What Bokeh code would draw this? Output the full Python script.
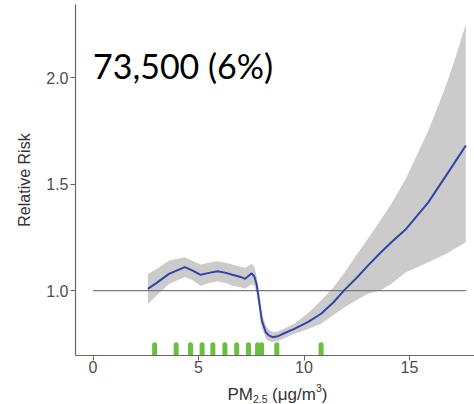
from bokeh.plotting import figure
from bokeh.layouts import column
from bokeh.models import Label, Range1d, FixedTicker, NumeralTickFormatter
from bokeh.embed import file_html
from bokeh.resources import INLINE

# ---- data ----
rr_x = [2.6, 3.0, 3.6, 4.35, 4.7, 5.1, 5.5, 5.9, 6.3, 6.6, 7.0, 7.21, 7.52, 7.65,
        7.75, 7.87, 8.0, 8.19, 8.35, 8.51, 8.75, 9.0, 9.54, 10.2, 10.81, 11.4,
        11.92, 12.5, 13.03, 13.6, 14.14, 14.8, 15.89, 16.7, 17.2, 17.67]
rr_fit = [1.008, 1.035, 1.078, 1.110, 1.095, 1.074, 1.083, 1.091, 1.083, 1.074,
          1.064, 1.055, 1.081, 1.065, 1.031, 0.953, 0.859, 0.804, 0.788, 0.781,
          0.785, 0.797, 0.820, 0.853, 0.891, 0.945, 1.003, 1.060, 1.117, 1.175,
          1.227, 1.285, 1.414, 1.535, 1.610, 1.681]
rr_hi = [1.078, 1.100, 1.141, 1.156, 1.140, 1.122, 1.130, 1.138, 1.130, 1.122,
         1.112, 1.107, 1.125, 1.110, 1.070, 0.990, 0.895, 0.835, 0.815, 0.805,
         0.808, 0.818, 0.844, 0.895, 0.953, 1.015, 1.085, 1.169, 1.243, 1.327,
         1.407, 1.520, 1.750, 1.955, 2.100, 2.252]
rr_lo = [0.937, 0.975, 1.031, 1.063, 1.050, 1.023, 1.035, 1.044, 1.035, 1.023,
         1.015, 1.008, 1.030, 1.020, 0.990, 0.915, 0.825, 0.775, 0.762, 0.758,
         0.763, 0.773, 0.797, 0.820, 0.844, 0.885, 0.922, 0.955, 0.985, 1.000,
         1.031, 1.085, 1.133, 1.170, 1.200, 1.227]
rug_x = [2.92, 3.94, 4.62, 5.17, 5.68, 6.25, 6.81, 7.37, 7.80, 7.99, 8.71, 10.81]
ref_level = 1.0
ref_start = 0.0
x_ticks = [0, 5, 10, 15]
y_ticks = [1.0, 1.5, 2.0]
annotation_text = "73,500 (6%)"
# x-axis title pieces: (text, role) where role is main / sub / sup
x_label_parts = [("PM", "main"), ("2.5", "sub"), ("(\u03bcg/m", "main"),
                 ("3", "sup"), (")", "main")]
y_label = "Relative Risk"

# ---- main figure ----
X0, X1, Y0, Y1 = -0.83, 18.08, 0.695, 2.343
W = 474
FRAME_L = 75
MAIN_H, TITLE_H = 376, 28
p = figure(width=W, height=MAIN_H, output_backend="svg", toolbar_location=None,
           x_range=Range1d(X0, X1), y_range=Range1d(Y0, Y1),
           min_border_left=FRAME_L, min_border_right=0, min_border_top=4,
           min_border_bottom=MAIN_H - 355)
p.outline_line_color = None
p.grid.visible = False
p.background_fill_color = "white"
p.border_fill_color = "white"

for ax in (p.xaxis, p.yaxis):
    ax.axis_line_color = "#666666"
    ax.axis_line_width = 1.2
    ax.major_tick_line_color = "#666666"
    ax.major_tick_in = 0
    ax.major_tick_out = 5
    ax.minor_tick_line_color = None
    ax.major_label_text_font = "Liberation Sans"
    ax.major_label_text_font_size = "16px"
    ax.major_label_text_color = "#4d4d4d"
    ax.axis_label_text_font = "Liberation Sans"
    ax.axis_label_text_font_size = "16px"
    ax.axis_label_text_font_style = "normal"
    ax.axis_label_text_color = "#333333"

p.xaxis.ticker = FixedTicker(ticks=x_ticks)
p.yaxis.ticker = FixedTicker(ticks=y_ticks)
p.yaxis.formatter = NumeralTickFormatter(format="0.0")
p.xaxis.major_label_standoff = 0
p.yaxis.major_label_standoff = 2
p.yaxis.axis_label = y_label
p.yaxis.axis_label_standoff = 10

# confidence band
p.varea(x=rr_x, y1=rr_lo, y2=rr_hi, fill_color="#cbcbcb", fill_alpha=1.0)
# reference line at RR = 1
p.segment(x0=[ref_start], x1=[max(rr_x)], y0=[ref_level], y1=[ref_level],
          line_color="#7a7a7a", line_width=1.3)
# fitted curve
p.line(rr_x, rr_fit, line_color="#3343a8", line_width=2)
# rug
rug_bottom = p.y_range.start
rug_top = rug_bottom + 0.05
p.segment(x0=rug_x, x1=rug_x, y0=[rug_bottom] * len(rug_x), y1=[rug_top] * len(rug_x),
          line_color="#6abf3f", line_width=5, line_cap="round")

p.add_layout(Label(x=0, y=2.056, text=annotation_text, text_font="Lato",
                   text_font_size="34px", text_color="black",
                   text_baseline="alphabetic", text_align="left"))

# ---- x-axis title strip (sub- and superscripts as separate texts) ----
# the column aligns this strip's frame with the main frame, so share its x scale
t = figure(width=W, height=TITLE_H, output_backend="svg", toolbar_location=None,
           x_range=Range1d(X0, X1), y_range=Range1d(0, TITLE_H),
           x_axis_type=None, y_axis_type=None, min_border=0,
           min_border_left=FRAME_L)
t.outline_line_color = None
t.grid.visible = False
t.background_fill_color = "white"
t.border_fill_color = "white"

px_per_x = (W - FRAME_L) / (X1 - X0)
ARIAL_W = {"P": 0.667, "M": 0.833, "2": 0.556, ".": 0.278, "5": 0.556, "(": 0.333,
           "\u03bc": 0.576, "g": 0.556, "/": 0.278, "m": 0.833, "3": 0.556, ")": 0.333}
sizes = {"main": 17, "sub": 10.5, "sup": 10.5}
shift = {"main": 0, "sub": -4, "sup": 7}
gap_after = {"PM": 0, "2.5": 4.5, "(\u03bcg/m": 0, "3": 0, ")": 0}
cur = 227                      # left edge of title (page px)
base = 10                      # baseline height above strip bottom (px)
for txt, role in x_label_parts:
    fs = sizes[role]
    t.add_layout(Label(x=X0 + (cur - FRAME_L) / px_per_x, y=base + shift[role],
                       text=txt, text_font="Liberation Sans",
                       text_font_size=f"{fs}px", text_color="#333333",
                       text_baseline="alphabetic", text_align="left"))
    cur += sum(ARIAL_W.get(c, 0.55) for c in txt) * fs + gap_after[txt]

layout = column(p, t, spacing=0)
open("out.html", "w").write(file_html(layout, INLINE))
